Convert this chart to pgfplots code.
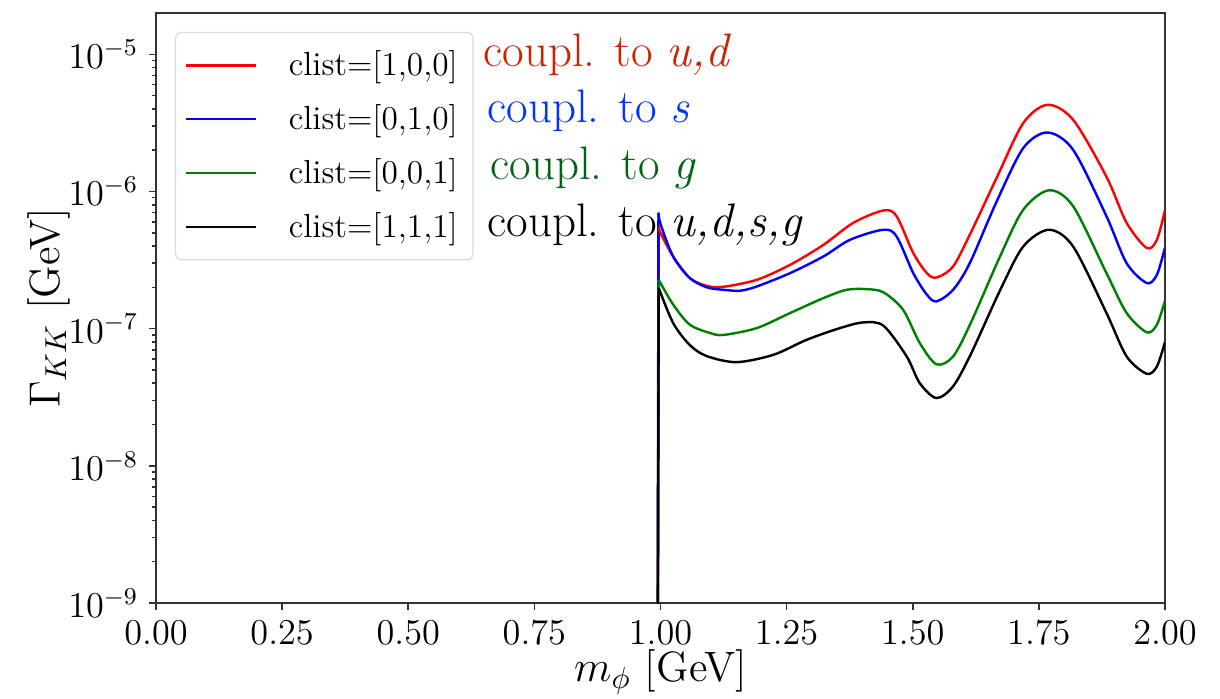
\documentclass[border=0pt]{standalone}
\usepackage{pgfplots}
\pgfplotsset{compat=1.18}
\definecolor{annred}{RGB}{204,34,0}
\definecolor{annblue}{RGB}{0,51,255}
\definecolor{anngreen}{RGB}{0,100,20}
\definecolor{mplgreen}{RGB}{0,128,0}
\begin{document}
\begin{tikzpicture}
\path[use as bounding box] (-51.48pt,-31.68pt) rectangle (351.12pt,198.99pt);
\begin{axis}[
  scale only axis, width=332.97pt, height=194.7pt,
  xmin=0, xmax=2, ymode=log, ymin=1e-9, ymax=2e-5,
  xtick={0,0.25,0.5,0.75,1,1.25,1.5,1.75,2},
  xticklabel style={/pgf/number format/.cd, fixed, fixed zerofill, precision=2},
  ytick={1e-9,1e-8,1e-7,1e-6,1e-5},
  tick align=outside, xtick pos=left, ytick pos=left,
  axis line style={line width=0.6pt, black!80},
  every tick/.style={black!80, line width=0.5pt},
  major tick length=2.3pt, minor tick length=1.3pt,
  tick label style={font=\fontsize{11.8}{14}\selectfont},
  label style={font=\fontsize{14}{17}\selectfont},
  xlabel={$m_\phi$ [GeV]}, ylabel={$\Gamma_{KK}$ [GeV]},
  xlabel style={at={(axis description cs:0.5,-0.117)}, anchor=center},
  ylabel style={at={(axis description cs:-0.106,0.5)}, anchor=center},
  legend style={at={(axis description cs:0.0188,0.968)}, anchor=north west,
    draw=black!15, rounded corners=2pt, fill=white, fill opacity=0.8, text opacity=1,
    font=\fontsize{11}{13}\selectfont, row sep=4pt, inner xsep=3pt, inner ysep=4pt},
  legend cell align=left,
  legend image code/.code={\draw[#1, line width=0.8pt] (0pt,0pt) -- (23pt,0pt); \path[draw=none] (0pt,0pt) -- (32pt,0pt);},
  every axis plot/.append style={line width=0.8pt},
]
% vertical threshold rises
\addplot[red, forget plot] coordinates {(0.9935,1e-11) (0.9965,5.6e-7)};
\addplot[blue, forget plot] coordinates {(0.9935,1e-11) (0.9960,7.0e-7)};
\addplot[mplgreen, forget plot] coordinates {(0.9935,1e-11) (0.9965,2.27e-7)};
\addplot[black, forget plot] coordinates {(0.9935,1e-11) (0.9965,1.98e-7)};

\addplot[red, smooth, tension=0.5] coordinates {
(0.9965,5.6e-7) (1.000,5.0e-7) (1.025,3.36e-7) (1.058,2.34e-7) (1.092,2.05e-7)
(1.125,2.02e-7) (1.191,2.27e-7) (1.257,2.92e-7) (1.323,4.08e-7)
(1.382,5.9e-7) (1.442,7.27e-7) (1.468,6.6e-7) (1.501,3.56e-7) (1.528,2.54e-7)
(1.547,2.36e-7) (1.580,2.84e-7) (1.615,5.0e-7) (1.666,1.25e-6) (1.719,3.15e-6)
(1.767,4.28e-6) (1.818,3.33e-6) (1.884,1.28e-6) (1.924,5.9e-7) (1.964,3.87e-7)
(1.984,4.45e-7) (2.0,7.3e-7)};
\addlegendentry{clist=[1,0,0]}
\addplot[blue, smooth, tension=0.5] coordinates {
(0.9960,7.0e-7) (1.000,5.8e-7) (1.025,3.36e-7) (1.058,2.34e-7) (1.092,2.0e-7)
(1.125,1.92e-7) (1.158,1.89e-7) (1.191,2.03e-7) (1.257,2.54e-7) (1.323,3.36e-7)
(1.376,4.45e-7) (1.442,5.26e-7) (1.468,4.7e-7) (1.501,2.54e-7) (1.528,1.77e-7)
(1.547,1.58e-7) (1.580,1.92e-7) (1.613,3.0e-7) (1.666,8.4e-7) (1.719,2.07e-6)
(1.767,2.69e-6) (1.818,2.01e-6) (1.884,6.6e-7) (1.924,3.0e-7) (1.964,2.15e-7)
(1.984,2.47e-7) (2.0,3.9e-7)};
\addlegendentry{clist=[0,1,0]}
\addplot[mplgreen, smooth, tension=0.5] coordinates {
(0.9965,2.27e-7) (1.025,1.5e-7) (1.058,1.07e-7) (1.098,9.3e-8) (1.125,9.0e-8)
(1.191,1.01e-7) (1.257,1.3e-7) (1.323,1.67e-7) (1.369,1.92e-7)
(1.409,1.94e-7) (1.442,1.84e-7) (1.481,1.37e-7) (1.514,7.85e-8) (1.547,5.5e-8)
(1.580,6.27e-8) (1.615,1.1e-7) (1.673,3.36e-7) (1.719,7.36e-7) (1.770,1.02e-6)
(1.818,7.8e-7) (1.884,2.54e-7) (1.924,1.3e-7) (1.964,9.4e-8) (1.984,1.07e-7)
(2.0,1.6e-7)};
\addlegendentry{clist=[0,0,1]}
\addplot[black, smooth, tension=0.5] coordinates {
(0.9965,1.98e-7) (1.025,1.1e-7) (1.058,7.6e-8) (1.092,6.3e-8) (1.151,5.7e-8)
(1.224,6.45e-8) (1.290,8.3e-8) (1.356,1.01e-7) (1.402,1.11e-7)
(1.442,1.05e-7) (1.488,6.27e-8) (1.514,4.0e-8) (1.547,3.12e-8)
(1.580,3.8e-8) (1.615,6.5e-8) (1.673,1.9e-7) (1.719,3.97e-7) (1.770,5.26e-7)
(1.818,3.97e-7) (1.884,1.3e-7) (1.924,6.27e-8) (1.964,4.69e-8) (1.984,5.3e-8)
(2.0,8.0e-8)};
\addlegendentry{clist=[1,1,1]}

\node[anchor=base west, inner sep=0, text=annred, font=\fontsize{15.5}{18}\selectfont]
  at (axis cs:0.648,8.15e-6) {coupl. to \textit{u,d}};
\node[anchor=base west, inner sep=0, text=annblue, font=\fontsize{15.5}{18}\selectfont]
  at (axis cs:0.656,3.17e-6) {coupl. to \textit{s}};
\node[anchor=base west, inner sep=0, text=anngreen, font=\fontsize{15.5}{18}\selectfont]
  at (axis cs:0.662,1.22e-6) {coupl. to \textit{g}};
\node[anchor=base west, inner sep=0, text=black, font=\fontsize{15.5}{18}\selectfont]
  at (axis cs:0.656,4.68e-7) {coupl. to \textit{u,d,s,g}};
\end{axis}
\end{tikzpicture}
\end{document}
